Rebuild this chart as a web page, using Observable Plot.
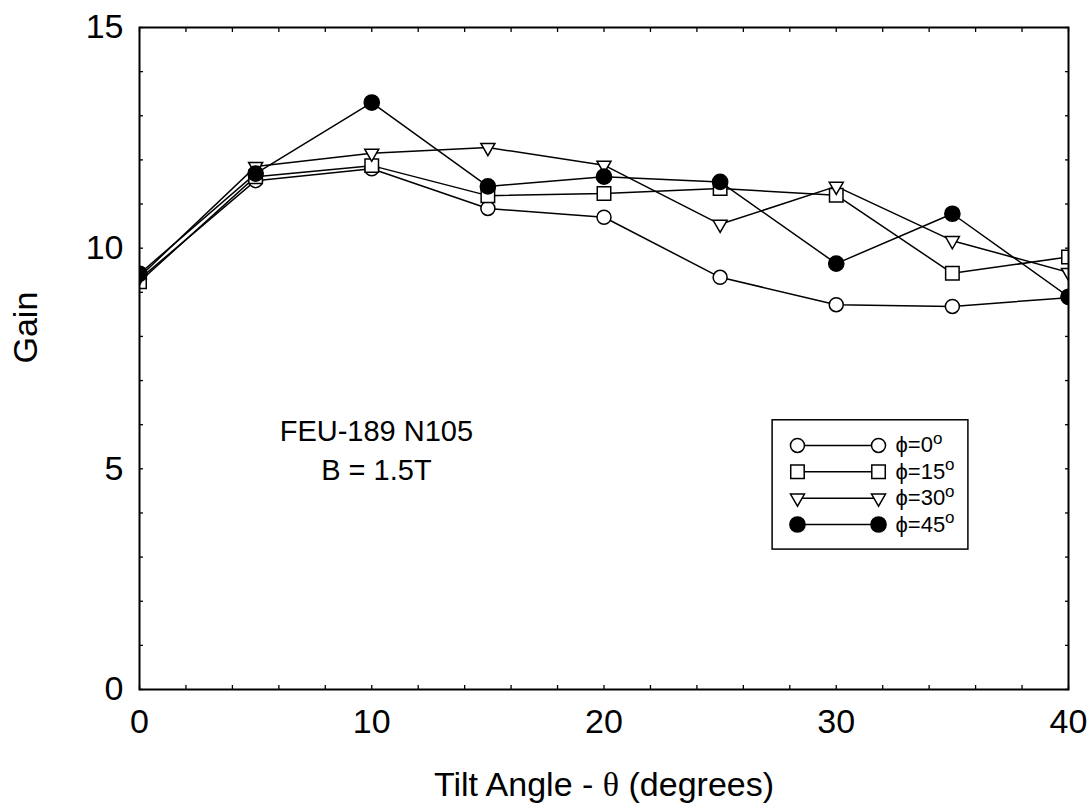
<!DOCTYPE html>
<html><head><meta charset="utf-8">
<script src="https://cdn.jsdelivr.net/npm/d3@7"></script>
<script src="https://cdn.jsdelivr.net/npm/@observablehq/plot@0.6"></script>
<style>body{margin:0;background:#fff;} #chart{width:1090px;height:812px;}</style>
</head><body><div id="chart"></div>
<script>
// ---- data ----
const tilt = [0, 5, 10, 15, 20, 25, 30, 35, 40];
const gainPhi0  = [9.30, 11.53, 11.80, 10.90, 10.70, 9.34, 8.72, 8.68, 8.88];
const gainPhi15 = [9.24, 11.62, 11.87, 11.19, 11.24, 11.35, 11.20, 9.43, 9.80];
const gainPhi30 = [9.35, 11.85, 12.15, 12.28, 11.88, 10.54, 11.40, 10.17, 9.45];
const gainPhi45 = [9.42, 11.69, 13.30, 11.40, 11.62, 11.50, 9.65, 10.78, 8.90];
const seriesNames = ["ϕ=0", "ϕ=15", "ϕ=30", "ϕ=45"];
const xTickLabels = [0, 10, 20, 30, 40];
const yTickLabels = [0, 5, 10, 15];
const xMinorTicks = [0, 2, 4, 6, 8, 10, 12, 14, 16, 18, 20, 22, 24, 26, 28, 30, 32, 34, 36, 38, 40];
const yMinorTicks = [0, 1, 2, 3, 4, 5, 6, 7, 8, 9, 10, 11, 12, 13, 14, 15];
const xTitle = "Tilt Angle - θ (degrees)";
const yTitle = "Gain";
const annotation = "FEU-189 N105\nB = 1.5T";

// ---- build table ----
const seriesValues = [gainPhi0, gainPhi15, gainPhi30, gainPhi45];
const rows = seriesNames.flatMap((s, i) => tilt.map((t, j) => ({series: s, theta: t, gain: seriesValues[i][j]})));

// ---- styles (not data) ----
const styles = {
  "ϕ=0":  {symbol: "circle",   r: 7,   fill: "white", rotate: 0},
  "ϕ=15": {symbol: "square",   r: 7.6, fill: "white", rotate: 0},
  "ϕ=30": {symbol: "triangle", r: 5.2, fill: "white", rotate: 180},
  "ϕ=45": {symbol: "circle",   r: 7.6, fill: "black", rotate: 0}
};
const font = "'Liberation Sans', Arial, Helvetica, sans-serif";

// legend layout in data units
const legBox = {x1: 27.26, x2: 35.69, y1: 3.17, y2: 6.10};
const legRowTop = 5.53, legStep = 0.597;
const legLineX1 = 28.33, legLineX2 = 31.82, legTextX = 32.55;
const legend = seriesNames.map((s, i) => ({series: s, y: legRowTop - i * legStep}));

const marks = [
  Plot.axisX(xMinorTicks, {anchor: "bottom", tickSize: -4, tickFormat: () => "", label: null, strokeWidth: 1.3}),
  Plot.axisX(xMinorTicks, {anchor: "top", tickSize: -4, tickFormat: () => "", label: null, strokeWidth: 1.3}),
  Plot.axisY(yMinorTicks, {anchor: "left", tickSize: -4, tickFormat: () => "", label: null, strokeWidth: 1.3}),
  Plot.axisY(yMinorTicks, {anchor: "right", tickSize: -4, tickFormat: () => "", label: null, strokeWidth: 1.3}),
  Plot.axisX(xTickLabels, {anchor: "bottom", tickSize: 0, tickPadding: 19, fontSize: 34, label: null}),
  Plot.axisY(yTickLabels, {anchor: "left", tickSize: 0, tickPadding: 16, fontSize: 34, label: null}),
  Plot.text([xTitle], {frameAnchor: "bottom", dy: 106, fontSize: 34}),
  Plot.text([yTitle], {frameAnchor: "left", dx: -113, dy: 5, rotate: -90, fontSize: 34}),
  Plot.text([annotation], {x: 10.2, y: 5.48, fontSize: 29, lineHeight: 1.36})
];

for (const s of seriesNames) {
  const d = rows.filter(r => r.series === s);
  marks.push(Plot.line(d, {x: "theta", y: "gain", stroke: "black", strokeWidth: 1.5, clip: "frame"}));
}
for (const s of seriesNames) {
  const st = styles[s];
  const d = rows.filter(r => r.series === s);
  marks.push(Plot.dot(d, {x: "theta", y: "gain", symbol: st.symbol, r: st.r, fill: st.fill, stroke: "black", strokeWidth: 1.5, rotate: st.rotate, clip: "frame"}));
}

// legend
marks.push(Plot.rect([legBox], {x1: "x1", x2: "x2", y1: "y1", y2: "y2", fill: "white", stroke: "black", strokeWidth: 1.5}));
marks.push(Plot.link(legend, {x1: () => legLineX1, x2: () => legLineX2, y1: "y", y2: "y", stroke: "black", strokeWidth: 1.5}));
for (const s of seriesNames) {
  const st = styles[s];
  const d = legend.filter(l => l.series === s).flatMap(l => [{x: legLineX1, y: l.y}, {x: legLineX2, y: l.y}]);
  marks.push(Plot.dot(d, {x: "x", y: "y", symbol: st.symbol, r: st.r, fill: st.fill, stroke: "black", strokeWidth: 1.5, rotate: st.rotate}));
}
marks.push(Plot.text(legend, {x: () => legTextX, y: "y", text: "series", textAnchor: "start", fontSize: 22}));
marks.push(Plot.frame({stroke: "black", strokeWidth: 2}));

const chart = Plot.plot({
  width: 1090, height: 812,
  marginLeft: 139, marginRight: 22, marginTop: 27, marginBottom: 123,
  style: {fontFamily: font, background: "white", color: "black", overflow: "visible"},
  x: {domain: [0, 40], axis: null},
  y: {domain: [0, 15], axis: null},
  marks
});
document.getElementById("chart").appendChild(chart);

// post-process text: superscript "o" in legend labels, serif theta in x title
d3.select(chart).selectAll("text").each(function() {
  const t = d3.select(this);
  const txt = t.text();
  if (seriesNames.includes(txt)) {
    t.text(txt);
    t.append("tspan").attr("dy", "-0.5em").attr("font-size", "17px").text("o");
  } else if (txt === xTitle) {
    const [a, b] = txt.split("θ");
    t.text(a);
    t.append("tspan").attr("font-family", "'Liberation Serif', 'Times New Roman', serif").text("θ");
    t.append("tspan").text(b);
  }
});
</script>
</body></html>
